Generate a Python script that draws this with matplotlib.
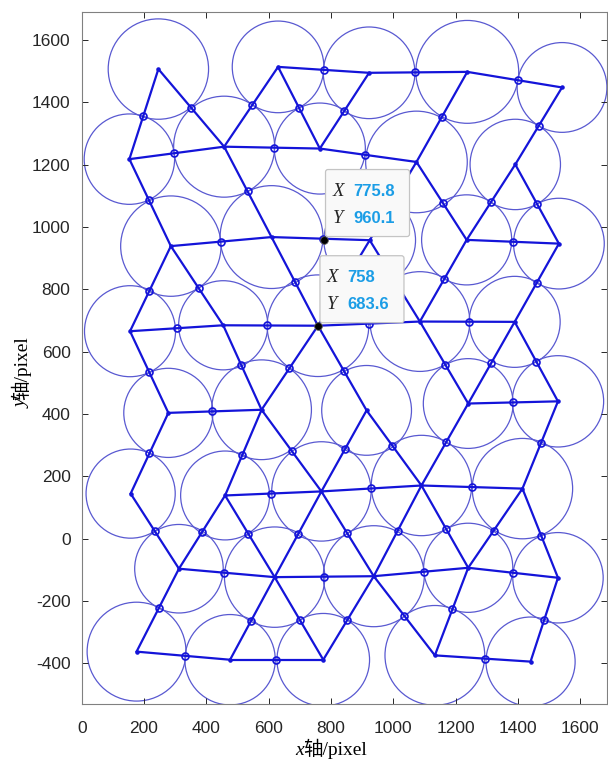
#!/usr/bin/env python
# -*- coding: utf-8 -*-

import matplotlib
matplotlib.use('Agg')
import matplotlib.pyplot as plt
from matplotlib.patches import Circle, FancyBboxPatch
from matplotlib.transforms import IdentityTransform
import numpy as np

# particle centres and radii (pixel)
node_names = ['a0', 'a1', 'a2', 'a3', 'a4',
              'b0', 'b1', 'b2', 'b3', 'b4',
              'c0', 'c1', 'c2', 'c3', 'c4',
              'd0', 'd1', 'd2', 'd3', 'd4',
              'e0', 'e1', 'e2', 'e3', 'e4',
              'f0', 'f1', 'f2', 'f3', 'f4',
              'g0', 'g1', 'g2', 'g3', 'g4',
              'h0', 'h1', 'h2', 'h3', 'h4']
node_x = [246, 630, 922, 1237, 1541,
          153, 457, 764, 1074, 1391,
          286, 609, 924, 1235, 1531,
          155, 454, 758, 1085, 1389,
          278, 577, 914, 1240, 1528,
          157, 460, 769, 1090, 1414,
          312, 619, 937, 1240, 1528,
          176, 476, 775, 1133, 1440]
node_y = [1507, 1514, 1495, 1498, 1448,
          1218, 1258, 1252, 1209, 1201,
          939, 968, 958, 959, 947,
          666, 685, 683.6, 697, 696,
          404, 414, 412, 434, 441,
          145, 139, 152, 171, 161,
          -96, -123, -120, -93, -125,
          -362, -388, -388, -374, -394]
node_r = [161, 147, 147, 165, 144,
          145, 162, 146, 163, 145,
          161, 165, 147, 144.5, 145.5,
          146, 143, 163, 160, 146,
          143, 160, 144, 144, 146.5,
          143, 142.6, 159.4, 161, 161,
          142, 161, 162, 143, 145,
          158.6, 145, 148.5, 160, 143]

# contacts between particles
contacts = [
    'a0-b0', 'a0-b1', 'a1-b1', 'a1-a2', 'a1-b2', 'a2-a3', 'a2-b2', 'a3-a4', 'a3-b3', 'a4-b4',
    'b0-b1', 'b1-b2', 'b2-b3', 'b0-c0', 'b1-c1', 'b3-c2', 'b3-c3', 'b4-c3', 'b4-c4',
    'c0-c1', 'c1-c2', 'c3-c4',
    'c0-d0', 'c0-d1', 'c1-d2', 'c2-d2', 'c2-d3', 'c3-d3', 'c4-d4',
    'd0-d1', 'd1-d2', 'd2-d3', 'd3-d4',
    'd0-e0', 'd1-e1', 'd2-e1', 'd2-e2', 'd3-e3', 'd4-e3', 'd4-e4',
    'e0-e1', 'e3-e4',
    'e0-f0', 'e1-f1', 'e1-f2', 'e2-f2', 'e2-f3', 'e3-f3', 'e4-f4',
    'f1-f2', 'f2-f3', 'f3-f4',
    'f0-g0', 'f1-g0', 'f1-g1', 'f2-g1', 'f2-g2', 'f3-g2', 'f3-g3', 'f4-g3', 'f4-g4',
    'g0-g1', 'g1-g2', 'g2-g3', 'g3-g4',
    'g0-h0', 'g1-h1', 'g1-h2', 'g2-h2', 'g2-h3', 'g3-h3', 'g4-h4',
    'h0-h1', 'h1-h2', 'h3-h4',
]

# data tips
tip_x = [775.8, 758]
tip_y = [960.1, 683.6]

x_ticks = [0, 200, 400, 600, 800, 1000, 1200, 1400, 1600]
y_ticks = [-400, -200, 0, 200, 400, 600, 800, 1000, 1200, 1400, 1600]


def main():
    make_plot('out.png')


def add_label(fig, pieces, cx, cy, rotation=0):
    # lay several differently styled pieces on one baseline, centred on (cx, cy) in pixels
    renderer = fig.canvas.get_renderer()
    texts = []
    for s, kw in pieces:
        t = fig.text(0, 0, s, rotation=rotation, rotation_mode='anchor',
                     ha='left', va='baseline', transform=IdentityTransform(), **kw)
        texts.append(t)
    lengths = []
    for t in texts:
        bb = t.get_window_extent(renderer)
        lengths.append(bb.height if rotation else bb.width)
    pos = -sum(lengths) / 2.0
    for t, l in zip(texts, lengths):
        if rotation:
            t.set_position((cx, cy + pos))
        else:
            t.set_position((cx + pos, cy))
        pos += l


def make_plot(outfile):
    W, H = 608, 760
    scale = 0.3117   # pixels per data unit, equal on both axes
    xlim = (0, 1685)
    ylim = (-530, 1689)

    plt.rc('font', family='Liberation Sans')
    plt.rc('axes', unicode_minus=False)
    fig = plt.figure(figsize=(W / 100.0, H / 100.0), dpi=100)
    ax = fig.add_axes([81.7 / W, 56.0 / H,
                       (xlim[1] - xlim[0]) * scale / W,
                       (ylim[1] - ylim[0]) * scale / H])

    edge_col = (0.08, 0.08, 0.85)
    circ_col = (0.35, 0.35, 0.82)

    idx = {n: i for i, n in enumerate(node_names)}
    nx = np.array(node_x, dtype=float)
    ny = np.array(node_y, dtype=float)
    nr = np.array(node_r, dtype=float)

    for x, y, r in zip(nx, ny, nr):
        ax.add_patch(Circle((x, y), r, fill=False, ec=circ_col, lw=0.9, zorder=1))

    px, py = [], []
    for c in contacts:
        i, j = [idx[k] for k in c.split('-')]
        ax.plot([nx[i], nx[j]], [ny[i], ny[j]], color=edge_col, lw=1.6,
                solid_capstyle='round', zorder=2)
        f = nr[i] / (nr[i] + nr[j])
        px.append(nx[i] + f * (nx[j] - nx[i]))
        py.append(ny[i] + f * (ny[j] - ny[i]))

    ax.plot(nx, ny, '.', color=edge_col, ms=4.5, zorder=3)
    ax.plot(px, py, 'o', ms=5, mfc='none', mec=edge_col, mew=1.2, zorder=3)

    ax.plot(tip_x, tip_y, 'o', ms=5.5, mfc='k', mec='#555555', mew=0.6, zorder=6)

    # data tip boxes, offsets in pixels from the tip point
    for x, y in zip(tip_x, tip_y):
        ax.add_patch(FancyBboxPatch(
            (x + 2 / scale, y + 3 / scale), 84 / scale, 67 / scale,
            boxstyle='round,pad=0,rounding_size=8', fc='#f9f9f9', ec='#c4c4c4',
            lw=0.9, zorder=7))
        for dy, name, val in [(48, 'X', x), (21.5, 'Y', y)]:
            ax.text(x + 9 / scale, y + dy / scale, name, family='Liberation Serif',
                    style='italic', fontsize=13.5, color='#262626',
                    ha='left', va='center', zorder=8)
            ax.text(x + 29.5 / scale, y + dy / scale, '%g' % val, fontsize=12,
                    fontweight='bold', color='#1b9de6', ha='left', va='center', zorder=8)

    ax.set_xlim(xlim)
    ax.set_ylim(ylim)
    ax.set_xticks(x_ticks)
    ax.set_yticks(y_ticks)
    ax.tick_params(direction='in', length=4, width=0.7, top=True, right=True,
                   labelsize=12.5, colors='#262626')
    ax.tick_params(axis='x', pad=12)
    ax.tick_params(axis='y', pad=8)
    for sp in ax.spines.values():
        sp.set_color('#808080')
        sp.set_linewidth(0.8)

    serif = ['Liberation Serif', 'Noto Sans CJK SC']
    add_label(fig, [('x', dict(family='Liberation Serif', style='italic', fontsize=14)),
                    ('轴/pixel', dict(family=serif, fontsize=14))],
              331, H - 755)
    add_label(fig, [('y', dict(family='Liberation Serif', style='italic', fontsize=14)),
                    ('轴/pixel', dict(family=serif, fontsize=14))],
              27, H - 372, rotation=90)

    fig.savefig(outfile, dpi=100)
    plt.close(fig)


if __name__ == "__main__":
    main()
